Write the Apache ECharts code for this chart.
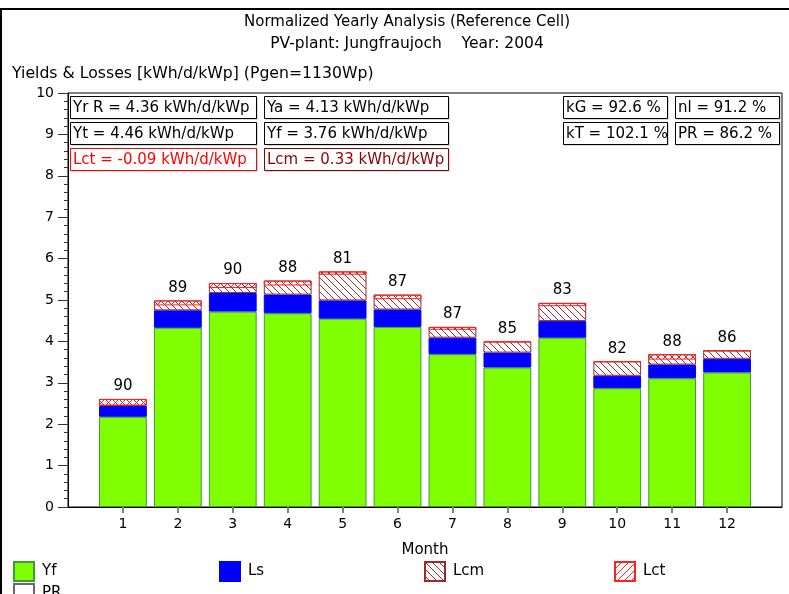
<!DOCTYPE html>
<html>
<head>
<meta charset="utf-8">
<script src="https://cdn.jsdelivr.net/npm/echarts@6/dist/echarts.min.js"></script>
<style>
html,body{margin:0;padding:0;background:#fff;}
#chart{width:789px;height:594px;}
</style>
</head>
<body>
<div id="chart"></div>
<script>
// ---------- data ----------
const months = ['1','2','3','4','5','6','7','8','9','10','11','12'];
const yfVals  = [2.18, 4.33, 4.72, 4.68, 4.55, 4.35, 3.69, 3.37, 4.09, 2.87, 3.11, 3.25];
const lsVals  = [0.26, 0.42, 0.45, 0.45, 0.44, 0.42, 0.40, 0.36, 0.40, 0.30, 0.33, 0.33];
const lcmVals = [0.17, 0.24, 0.24, 0.34, 0.70, 0.36, 0.26, 0.27, 0.44, 0.35, 0.25, 0.20];
const lctVals = [-0.16, -0.12, -0.12, -0.12, -0.08, -0.11, -0.07, -0.02, -0.08, -0.02, -0.13, -0.01];
const prVals  = [90, 89, 90, 88, 81, 87, 87, 85, 83, 82, 88, 86];
const yTicks = [0,1,2,3,4,5,6,7,8,9,10];

const titleText = 'Normalized Yearly Analysis (Reference Cell)';
const subtitleText = 'PV-plant: Jungfraujoch    Year: 2004';
const yAxisTitle = 'Yields & Losses [kWh/d/kWp] (Pgen=1130Wp)';
const xAxisTitle = 'Month';
const infoRow1 = ['Yr R = 4.36 kWh/d/kWp', 'Ya = 4.13 kWh/d/kWp', 'kG = 92.6 %', 'nl = 91.2 %'];
const infoRow2 = ['Yt = 4.46 kWh/d/kWp', 'Yf = 3.76 kWh/d/kWp', 'kT = 102.1 %', 'PR = 86.2 %'];
const infoRow3 = ['Lct = -0.09 kWh/d/kWp', 'Lcm = 0.33 kWh/d/kWp'];

// ---------- helpers ----------
const FONT = 'DejaVu Sans';
function hatch(color, dir, bg) {
  const s = 7;
  const c = document.createElement('canvas');
  c.width = s; c.height = s;
  const g = c.getContext('2d');
  if (bg) { g.fillStyle = bg; g.fillRect(0, 0, s, s); }
  g.strokeStyle = color; g.lineWidth = 1;
  g.beginPath();
  if (dir === 'back') {
    g.moveTo(-1, -1); g.lineTo(s + 1, s + 1);
    g.moveTo(-1, s - 1); g.lineTo(1, s + 1);
    g.moveTo(s - 1, -1); g.lineTo(s + 1, 1);
  } else {
    g.moveTo(-1, s + 1); g.lineTo(s + 1, -1);
    g.moveTo(-1, 1); g.lineTo(1, -1);
    g.moveTo(s - 1, s + 1); g.lineTo(s + 1, s - 1);
  }
  g.stroke();
  return c;
}
const lcmPattern = { image: hatch('#9b2a2a', 'back', '#ffffff'), repeat: 'repeat' };
const lctPattern = { image: hatch('#ff2020', 'fwd', null), repeat: 'repeat' };

const cats = [''].concat(months, ['']);
const pad = arr => ['-'].concat(arr, ['-']);
const showIdx = (i) => i >= 1 && i <= months.length;

// info boxes
const colX = [70, 264, 563, 675];
const colW = [186, 184, 104, 104];
const rowY = [96, 122, 148];
const boxH = 22;
const graphics = [];
function box(x, y, w, text, color, border) {
  graphics.push({ type: 'rect', shape: { x: x + 1.5, y: y + 1.5, width: w, height: boxH }, style: { fill: '#b8b8b8' }, z: 10 });
  graphics.push({ type: 'rect', shape: { x: x + 0.5, y: y + 0.5, width: w, height: boxH }, style: { fill: '#fff', stroke: border, lineWidth: 1 }, z: 11 });
  graphics.push({ type: 'text', x: x + 3, y: y + boxH / 2 + 1, style: { text: text, fill: color, font: '15px "' + FONT + '"', verticalAlign: 'middle', align: 'left' }, z: 12 });
}
infoRow1.forEach((t, i) => box(colX[i], rowY[0], colW[i], t, '#000', '#000'));
infoRow2.forEach((t, i) => box(colX[i], rowY[1], colW[i], t, '#000', '#000'));
box(colX[0], rowY[2], colW[0], infoRow3[0], '#ff0000', '#ff0000');
box(colX[1], rowY[2], colW[1], infoRow3[1], '#8b0000', '#8b0000');

// titles & frame
graphics.push({ type: 'text', x: 407, y: 22, style: { text: titleText, fill: '#000', font: '15px "' + FONT + '"', align: 'center', verticalAlign: 'middle' } });
graphics.push({ type: 'text', x: 407, y: 44, style: { text: subtitleText, fill: '#000', font: '15.5px "' + FONT + '"', align: 'center', verticalAlign: 'middle' } });
graphics.push({ type: 'text', x: 12, y: 74, style: { text: yAxisTitle, fill: '#000', font: '15.7px "' + FONT + '"', align: 'left', verticalAlign: 'middle' } });
graphics.push({ type: 'rect', shape: { x: 0, y: 8, width: 789, height: 2 }, style: { fill: '#000' } });
graphics.push({ type: 'rect', shape: { x: 0, y: 8, width: 2, height: 586 }, style: { fill: '#000' } });

const legendBase = {
  orient: 'horizontal', padding: 0, itemWidth: 20, itemHeight: 19, itemGap: 0, icon: 'rect',
  textStyle: { fontFamily: FONT, fontSize: 15, color: '#000', padding: [0, 0, 0, 3] }
};

const chart = echarts.init(document.getElementById('chart'), null, { renderer: 'canvas' });
chart.setOption({
  animation: false,
  backgroundColor: '#fff',
  textStyle: { fontFamily: FONT },
  grid: { left: 68, right: 7, top: 93, bottom: 87, show: true, borderColor: '#000', borderWidth: 1, backgroundColor: '#fff', containLabel: false },
  legend: [
    Object.assign({ left: 13, top: 561, data: ['Yf'] }, legendBase),
    Object.assign({ left: 219, top: 561, data: ['Ls'] }, legendBase),
    Object.assign({ left: 424, top: 561, data: ['Lcm'] }, legendBase),
    Object.assign({ left: 614, top: 561, data: ['Lct'] }, legendBase),
    Object.assign({ left: 13, top: 583, data: ['PR'] }, legendBase)
  ],
  xAxis: {
    type: 'category', data: cats, boundaryGap: false,
    name: xAxisTitle, nameLocation: 'middle', nameGap: 36,
    nameTextStyle: { fontFamily: FONT, fontSize: 15, color: '#000' },
    axisLine: { lineStyle: { color: '#000', width: 1 } },
    axisTick: { show: true, length: 6, interval: (i) => showIdx(i), lineStyle: { color: '#808080', width: 2 } },
    axisLabel: { interval: (i) => showIdx(i), margin: 10, fontFamily: FONT, fontSize: 14, color: '#000' },
    splitLine: { show: false }
  },
  yAxis: {
    type: 'value', min: 0, max: 10, interval: 1,
    axisLine: { show: true, lineStyle: { color: '#000', width: 1 } },
    axisTick: { show: true, length: 10, lineStyle: { color: '#333' } },
    minorTick: { show: true, splitNumber: 5, length: 4, lineStyle: { color: '#333' } },
    axisLabel: { margin: 14, fontFamily: FONT, fontSize: 14, color: '#000', formatter: (v) => yTicks.indexOf(v) >= 0 ? String(v) : '' },
    splitLine: { show: false }
  },
  series: [
    { name: 'Yf', type: 'bar', stack: 'y', stackStrategy: 'all', barWidth: '87%', data: pad(yfVals),
      itemStyle: { color: '#80ff00', borderColor: '#3c9a3c', borderWidth: 1 } },
    { name: 'Ls', type: 'bar', stack: 'y', stackStrategy: 'all', barWidth: '87%', data: pad(lsVals),
      itemStyle: { color: '#0000ff', borderColor: '#0000ff', borderWidth: 1 } },
    { name: 'Lcm', type: 'bar', stack: 'y', stackStrategy: 'all', barWidth: '87%', data: pad(lcmVals),
      itemStyle: { color: lcmPattern, borderColor: '#9b2a2a', borderWidth: 1 } },
    { name: 'Lct', type: 'bar', stack: 'y', stackStrategy: 'all', barWidth: '87%', data: pad(lctVals),
      itemStyle: { color: lctPattern, borderColor: '#ff2020', borderWidth: 1 },
      label: { show: true, position: 'top', distance: 5, fontFamily: FONT, fontSize: 15, color: '#000',
        formatter: (p) => String(prVals[p.dataIndex - 1]) } },
    { name: 'PR', type: 'scatter', data: [], itemStyle: { color: '#fff', borderColor: '#444', borderWidth: 1 } }
  ],
  graphic: graphics
});
</script>
</body>
</html>
